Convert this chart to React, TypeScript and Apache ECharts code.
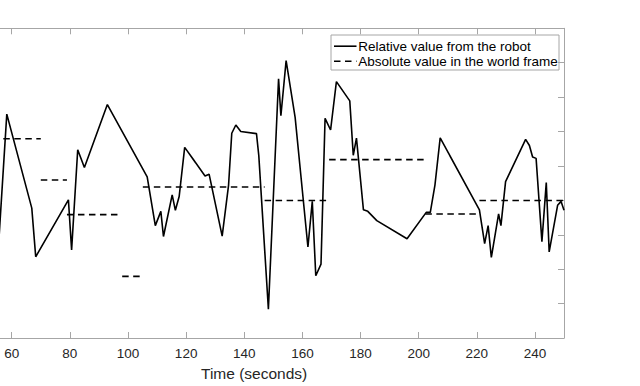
import React, { useEffect, useRef } from "react";
import * as echarts from "echarts";

// Solid line: relative value from the robot
const relTime = [
  55.5, 58.3, 66.9, 68.25, 79.5, 80.6, 82.7, 85.0, 92.9, 106.6, 109.4, 111.3, 112.2, 115.2, 116.3, 117.6,
  119.5, 126.5, 127.9, 132.4, 134.6, 135.7, 137.1, 138.8, 144.2, 145.0, 148.3, 151.8, 152.6, 154.4, 157.5,
  161.9, 163.4, 164.6, 166.4, 167.8, 169.7, 171.7, 176.3, 177.5, 178.6, 181.0, 182.5, 185.6, 196.0, 202.6,
  204.0, 205.6, 207.4, 220.9, 222.7, 223.9, 225.0, 227.5, 228.3, 229.9, 236.8, 238.1, 239.2, 240.4, 242.4,
  243.9, 244.9, 247.8, 249.0, 250.0,
];
const relValue = [
  55.0, 130.1, 75.5, 47.2, 80.3, 51.2, 109.4, 99.1, 135.7, 93.7, 65.3, 73.6, 59.0, 83.2, 74.2, 82.2,
  110.8, 94.2, 95.2, 59.2, 88.9, 119.0, 123.8, 120.0, 118.8, 106.0, 16.7, 150.7, 129.2, 161.2, 128.2,
  52.9, 79.4, 36.2, 42.9, 127.7, 120.9, 149.0, 137.8, 106.2, 116.2, 74.5, 73.6, 68.2, 57.7, 73.0,
  73.0, 88.9, 116.3, 74.5, 54.8, 65.3, 46.8, 72.1, 65.3, 90.9, 115.4, 111.9, 105.2, 104.4, 56.0,
  90.3, 50.0, 77.1, 79.4, 74.2,
];

// Dashed segments: absolute value in the world frame
const absStart = [57.1, 70.0, 79.0, 98.0, 105.1, 147.0, 169.2, 202.3, 220.9];
const absEnd = [70.0, 79.0, 97.5, 104.2, 147.0, 169.2, 202.3, 220.9, 250.0];
const absValue = [115.8, 91.8, 71.7, 35.8, 87.8, 79.9, 103.7, 72.1, 79.9];

const xTicks = [60, 80, 100, 120, 140, 160, 180, 200, 220, 240];
const legendNames = ["Relative value from the robot", "Absolute value in the world frame"];
const xTitle = "Time (seconds)";

const FONT = "'Liberation Sans', Arial, sans-serif";
const AXIS_GREY = "#a6a6a6";
const SHIFT = 60; // chart canvas extends beyond the left edge of the page

export default function App() {
  const ref = useRef<HTMLDivElement>(null);
  useEffect(() => {
    if (!ref.current) return;
    const chart = echarts.init(ref.current, undefined, { renderer: "svg" });
    const relData = relTime.map((t, i) => [t, relValue[i]]);
    const absData: any[] = [];
    absStart.forEach((s, i) => {
      if (i > 0) absData.push([s, "-"]);
      absData.push([s, absValue[i]]);
      absData.push([absEnd[i], absValue[i]]);
    });
    const axisCommon = {
      type: "value" as const,
      min: 40,
      max: 250,
      interval: 20,
      axisLine: { show: true, onZero: false, lineStyle: { color: AXIS_GREY, width: 1 } },
      axisTick: { show: true, inside: true, length: 6, lineStyle: { color: AXIS_GREY } },
      splitLine: { show: false },
    };
    const yCommon = {
      type: "value" as const,
      min: 0,
      max: 180,
      interval: 20,
      axisLine: { show: true, onZero: false, lineStyle: { color: AXIS_GREY, width: 1 } },
      axisTick: { show: true, inside: true, length: 6, lineStyle: { color: AXIS_GREY } },
      axisLabel: { show: false },
      splitLine: { show: false },
    };
    chart.setOption({
      animation: false,
      backgroundColor: "#ffffff",
      grid: { left: SHIFT - 46.4, right: 76, top: 28.3, bottom: 44.7, containLabel: false },
      xAxis: [
        {
          ...axisCommon,
          position: "bottom",
          axisLabel: {
            show: true,
            color: "#262626",
            fontSize: 13.5,
            fontFamily: FONT,
            margin: 8,
            showMaxLabel: false,
            formatter: (v: number) => (xTicks.includes(v) ? String(v) : ""),
          },
          name: xTitle,
          nameLocation: "middle",
          nameGap: 27,
          nameTextStyle: { color: "#262626", fontSize: 15.5, fontFamily: FONT, padding: [0, 9.4, 0, 0] },
        },
        { ...axisCommon, position: "top", axisLabel: { show: false } },
      ],
      yAxis: [
        { ...yCommon, position: "left" },
        { ...yCommon, position: "right" },
      ],
      series: [
        {
          name: legendNames[0],
          type: "line",
          data: relData,
          showSymbol: false,
          symbol: "none",
          lineStyle: { color: "#000000", width: 1.6 },
          xAxisIndex: 0,
          yAxisIndex: 0,
          z: 3,
        },
        {
          name: legendNames[1],
          type: "line",
          data: absData,
          showSymbol: false,
          symbol: "none",
          connectNulls: false,
          lineStyle: { color: "#000000", width: 1.6, type: [6.5, 4.5] },
          xAxisIndex: 0,
          yAxisIndex: 0,
          z: 2,
        },
      ],
      graphic: [
        {
          type: "group",
          left: SHIFT + 330.5,
          top: 34.5,
          children: [
            {
              type: "rect",
              shape: { x: 0, y: 0, width: 228, height: 35 },
              style: { fill: "#ffffff", stroke: AXIS_GREY, lineWidth: 1 },
            },
            {
              type: "line",
              shape: { x1: 3, y1: 11.2, x2: 25.5, y2: 11.2 },
              style: { stroke: "#000000", lineWidth: 1.6 },
            },
            {
              type: "line",
              shape: { x1: 3, y1: 26.2, x2: 25.5, y2: 26.2 },
              style: { stroke: "#000000", lineWidth: 1.6, lineDash: [6.5, 4.5] },
            },
            {
              type: "text",
              x: 27.2,
              y: 11.2,
              style: {
                text: legendNames[0],
                fill: "#000000",
                fontSize: 13.5,
                fontFamily: FONT,
                verticalAlign: "middle",
                align: "left",
              },
            },
            {
              type: "text",
              x: 27.2,
              y: 26.2,
              style: {
                text: legendNames[1],
                fill: "#000000",
                fontSize: 13.5,
                fontFamily: FONT,
                verticalAlign: "middle",
                align: "left",
              },
            },
          ],
        },
      ],
    });
    return () => chart.dispose();
  }, []);
  return (
    <div
      ref={ref}
      style={{ position: "fixed", left: -SHIFT, top: 0, width: 640 + SHIFT, height: 386, background: "#fff" }}
    />
  );
}
